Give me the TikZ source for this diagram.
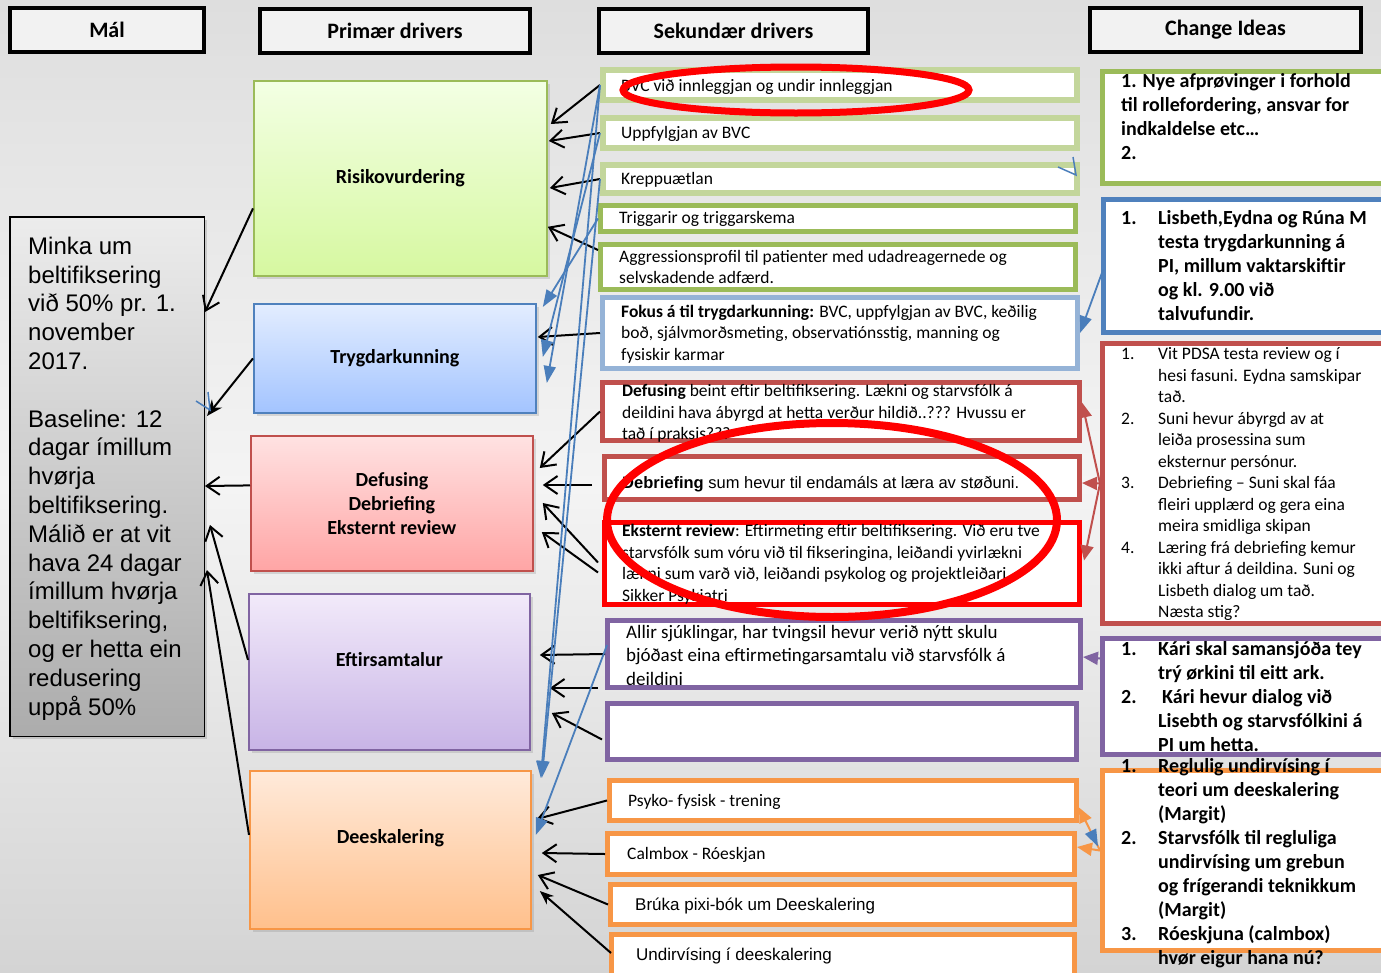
\documentclass[tikz,border=0pt]{standalone}
\usepackage{fontspec}
\setmainfont{Carlito}
\newfontfamily\arialfont{Liberation Sans}
\usepackage{xcolor}
\definecolor{headfill}{RGB}{242,242,242}
\definecolor{bgtop}{RGB}{222,222,222}
\definecolor{bgmid}{RGB}{244,244,244}
\definecolor{bgbot}{RGB}{212,212,212}
\definecolor{goaltop}{RGB}{236,236,236}
\definecolor{goalbot}{RGB}{172,172,172}
\definecolor{risktop}{RGB}{243,255,228}
\definecolor{riskbot}{RGB}{214,248,160}
\definecolor{riskline}{RGB}{155,187,89}
\definecolor{trygtop}{RGB}{227,237,255}
\definecolor{trygbot}{RGB}{163,196,255}
\definecolor{trygline}{RGB}{79,129,189}
\definecolor{defutop}{RGB}{255,226,226}
\definecolor{defubot}{RGB}{255,165,165}
\definecolor{defuline}{RGB}{192,80,77}
\definecolor{eftitop}{RGB}{242,234,250}
\definecolor{eftibot}{RGB}{200,180,230}
\definecolor{eftiline}{RGB}{128,100,162}
\definecolor{deestop}{RGB}{255,234,218}
\definecolor{deesbot}{RGB}{255,192,140}
\definecolor{deesline}{RGB}{247,150,70}
\definecolor{lightgreen}{RGB}{195,214,155}
\definecolor{lightblue}{RGB}{149,179,215}
\definecolor{ringred}{RGB}{255,0,0}
\definecolor{arrowblue}{RGB}{74,126,187}
\usepackage{tikz}
\usetikzlibrary{arrows.meta,positioning,calc,shadows}

\begin{document}
\begin{tikzpicture}[x=1pt, y=-1pt,
    header/.style={rectangle, draw=black, line width=4pt, fill=headfill, anchor=north west, font=\fontsize{22}{26}\selectfont\bfseries},
    goalbox/.style={rectangle, draw=black, line width=1.5pt, top color=goaltop, bottom color=goalbot, anchor=north west, drop shadow={shadow xshift=3pt, shadow yshift=-3pt, opacity=0.3}},
    prim/.style={rectangle, line width=1.8pt, anchor=north west, align=center, font=\fontsize{20}{24}\selectfont\bfseries, drop shadow={shadow xshift=3pt, shadow yshift=-3pt, opacity=0.25}},
    sec/.style={rectangle, draw=#1, line width=5pt, fill=white, anchor=north west},
    chg/.style={rectangle, draw=#1, line width=5pt, fill=white, anchor=north west, minimum width=290pt},
    stext/.style={anchor=west, align=left, inner sep=0pt, font=\fontsize{17.5}{21.5}\selectfont},
    ctext/.style={anchor=west, align=left, inner sep=0pt, font=\fontsize{20}{24}\selectfont\bfseries},
    arrow/.style={-{Straight Barb[length=13pt,width=18pt]}, line width=2pt},
    bluearrow/.style={-{Triangle[length=17pt,width=12pt]}, line width=1.8pt, arrowblue},
    idea/.style={-{Triangle[length=15pt,width=13pt]}, line width=2pt, color=#1},
    ring/.style={draw=ringred, line width=7pt}
]
% Background
\useasboundingbox (0,0) rectangle (1381,972);
\clip (0,0) rectangle (1381,972);
\shade[top color=bgtop, bottom color=bgbot, middle color=bgmid] (0,0) rectangle (1381,972);

% Headers
\node[header, minimum width=194pt, minimum height=44pt] (hmal) at (8,6) {Mál};
\node[header, minimum width=270pt, minimum height=44pt] (hprim) at (258,7) {Primær drivers};
\node[header, minimum width=269pt, minimum height=44pt] (hsek) at (597,7) {Sekundær drivers};
\node[header, minimum width=271pt, minimum height=44pt] (hchg) at (1088,6) {Change Ideas};

% Goal
\node[goalbox, minimum width=194.5pt, minimum height=519.5pt] (goal) at (9,216) {};
\node[anchor=west, align=left, inner sep=0pt, font=\arialfont\fontsize{24}{28.8}\selectfont] (goalt) at ($(goal.west)+(19,2)$) {Minka um\\beltifiksering\\við 50\% pr. 1.\\november\\2017.\\[28.8pt]Baseline: 12\\dagar ímillum\\hvørja\\beltifiksering.\\Málið er at vit\\hava 24 dagar\\ímillum hvørja\\beltifiksering,\\og er hetta ein\\redusering\\uppå 50\%};

% Primary drivers
\node[prim, draw=riskline, top color=risktop, bottom color=riskbot, minimum width=293pt, minimum height=195pt] (risk) at (253,80) {Risikovurdering};
\node[prim, draw=trygline, top color=trygtop, bottom color=trygbot, minimum width=282pt, minimum height=109pt] (tryg) at (253,303) {Trygdarkunning};
\node[prim, draw=defuline, top color=defutop, bottom color=defubot, minimum width=282pt, minimum height=135pt] (defu) at (250,435) {Defusing\\Debriefing\\Eksternt review};
\node[prim, draw=eftiline, top color=eftitop, bottom color=eftibot, minimum width=281pt, minimum height=156pt, text depth=24pt] (efti) at (248,593) {Eftirsamtalur};
\node[prim, draw=deesline, top color=deestop, bottom color=deesbot, minimum width=281pt, minimum height=158pt, text depth=26pt] (dees) at (249,770) {Deeskalering};

% Secondary drivers
\node[sec=lightgreen, line width=6pt, minimum width=474pt, minimum height=30pt] (s1) at (600,67) {};
\node[sec=lightgreen, line width=6pt, minimum width=474pt, minimum height=30pt] (s2) at (600,115) {};
\node[sec=lightgreen, line width=6pt, minimum width=474pt, minimum height=28pt] (s3) at (600,162) {};
\node[sec=riskline, minimum width=475pt, minimum height=26pt] (s4) at (598,203) {};
\node[sec=riskline, minimum width=475pt, minimum height=45pt] (s5) at (598,242) {};
\node[sec=lightblue, minimum width=475pt, minimum height=71pt] (s6) at (600,295) {};
\node[sec=defuline, minimum width=477pt, minimum height=58pt] (s7) at (600,380) {};
\node[sec=defuline, minimum width=475pt, minimum height=43pt] (s8) at (602,454) {};
\node[sec=ringred, minimum width=475pt, minimum height=82pt] (s9) at (602,520) {};
\node[sec=eftiline, minimum width=473pt, minimum height=67pt] (s10) at (605,618) {};
\node[sec=eftiline, minimum width=469pt, minimum height=56pt] (s11) at (605,701) {};
\node[sec=deesline, minimum width=467pt, minimum height=40pt] (s12) at (607,778) {};
\node[sec=deesline, minimum width=467pt, minimum height=41pt] (s13) at (605,831) {};
\node[sec=deesline, minimum width=464pt, minimum height=40pt] (s14) at (608,882) {};
\node[sec=deesline, minimum width=463pt, minimum height=60pt] (s15) at (609,932) {};

\node[stext] (s1t) at ($(s1.west)+(21,2)$) {BVC við innleggjan og undir innleggjan};
\node[stext] (s2t) at ($(s2.west)+(21,1)$) {Uppfylgjan av BVC};
\node[stext] (s3t) at ($(s3.west)+(21,1)$) {Kreppuætlan};
\node[stext] (s4t) at ($(s4.west)+(21,0)$) {Triggarir og triggarskema};
\node[stext] (s5t) at ($(s5.west)+(21,0)$) {Aggressionsprofil til patienter med udadreagernede og\\selvskadende adfærd.};
\node[stext] (s6t) at ($(s6.west)+(21,1)$) {\textbf{Fokus á til trygdarkunning:} BVC, uppfylgjan av BVC, keðilig\\boð, sjálvmorðsmeting, observatiónsstig, manning og\\fysiskir karmar};
\node[stext] (s7t) at ($(s7.west)+(22,2)$) {\textbf{Defusing} beint eftir beltifiksering. Lækni og starvsfólk á\\deildini hava ábyrgd at hetta verður hildið..??? Hvussu er\\tað í praksis???};
\node[stext, font=\arialfont\fontsize{16.5}{21}\selectfont] (s8t) at ($(s8.west)+(20,6)$) {\textbf{Debriefing} sum hevur til endamáls at læra av støðuni.};
\node[stext] (s9t) at ($(s9.west)+(20,1)$) {\textbf{Eksternt review}: Eftirmeting eftir beltifiksering. Við eru tve\\starvsfólk sum vóru við til fikseringina, leiðandi yvirlækni\\lækni sum varð við, leiðandi psykolog og projektleiðari\\Sikker Psykiatri};
\node[stext, font=\fontsize{19}{23.5}\selectfont] (s10t) at ($(s10.west)+(21,1)$) {Allir sjúklingar, har tvingsil hevur verið nýtt skulu\\bjóðast eina eftirmetingarsamtalu við starvsfólk á\\deildini};
\node[stext] (s12t) at ($(s12.west)+(21,1)$) {Psyko- fysisk - trening};
\node[stext] (s13t) at ($(s13.west)+(22,1)$) {Calmbox - Róeskjan};
\node[stext, font=\arialfont\fontsize{17}{21}\selectfont] (s14t) at ($(s14.west)+(27,1)$) {Brúka pixi-bók um Deeskalering};
\node[stext, font=\arialfont\fontsize{17}{21}\selectfont] (s15t) at ($(s15.north west)+(27,24)$) {Undirvísing í deeskalering};

% Change ideas
\node[chg=riskline, minimum height=112pt] (c1) at (1100,69) {};
\node[chg=trygline, minimum height=133pt] (c2) at (1101,197) {};
\node[chg=defuline, minimum height=280pt] (c3) at (1100,341) {};
\node[chg=eftiline, minimum height=116pt] (c4) at (1100,636) {};
\node[chg=deesline, minimum height=180pt] (c5) at (1100,768) {};

\node[ctext] (c1t) at ($(c1.west)+(21,-11)$) {1. Nye afprøvinger i forhold\\til rollefordering, ansvar for\\indkaldelse etc…\\2.};
\node[ctext] (c2t) at ($(c2.west)+(20,2)$) {\begin{tabular}{@{}p{37pt}@{}l@{}}
1. & Lisbeth,Eydna og Rúna M\\
 & testa trygdarkunning á\\
 & PI, millum vaktarskiftir\\
 & og kl. 9.00 við\\
 & talvufundir.
\end{tabular}};
\node[ctext, font=\fontsize{17.5}{21.5}\selectfont] (c3t) at ($(c3.west)+(21,1)$) {\begin{tabular}{@{}p{37pt}@{}l@{}}
1. & Vit PDSA testa review og í\\
 & hesi fasuni. Eydna samskipar\\
 & tað.\\
2. & Suni hevur ábyrgd av at\\
 & leiða prosessina sum\\
 & eksternur persónur.\\
3. & Debriefing – Suni skal fáa\\
 & fleiri upplærd og gera eina\\
 & meira smidliga skipan\\
4. & Læring frá debriefing kemur\\
 & ikki aftur á deildina. Suni og\\
 & Lisbeth dialog um tað.\\
 & Næsta stig?
\end{tabular}};
\node[ctext] (c4t) at ($(c4.west)+(21,2)$) {\begin{tabular}{@{}p{37pt}@{}l@{}}
1. & Kári skal samansjóða tey\\
 & trý ørkini til eitt ark.\\
2. & \hspace{4pt}Kári hevur dialog við\\
 & Lisebth og starvsfólkini á\\
 & PI um hetta.
\end{tabular}};
\node[ctext] (c5t) at ($(c5.west)+(21,3)$) {\begin{tabular}{@{}p{37pt}@{}l@{}}
1. & Reglulig undirvísing í\\
 & teori um deeskalering\\
 & (Margit)\\
2. & Starvsfólk til regluliga\\
 & undirvísing um grebun\\
 & og frígerandi teknikkum\\
 & (Margit)\\
3. & Róeskjuna (calmbox)\\
 & hvør eigur hana nú?
\end{tabular}};

% Arrows to the goal
\draw[arrow] ($(risk.west)+(0,30)$) -- ($(goal.north east)+(0,96)$);
\draw[-{Stealth[length=16pt,width=13pt]}, line width=2pt] (tryg.west) -- ($(goal.north east)+(2,200)$);
\draw[arrow] ($(defu.west)+(0,-18)$) -- ($(goal.east)+(0,9.5)$);
\draw[arrow] ($(efti.west)+(0,-12)$) -- ($(goal.north east)+(5,309)$);
\draw[arrow] ($(dees.west)+(0,-15)$) -- ($(goal.north east)+(2,354)$);

% Arrows from secondary to primary drivers
\draw[arrow] (s1.west) -- ($(risk.north east)+(3,44)$);
\draw[arrow] (s2.west) -- ($(risk.north east)+(1,61)$);
\draw[arrow] (s3.west) -- ($(risk.north east)+(2,108)$);
\draw[arrow] ($(s5.north west)+(0,8)$) -- ($(risk.south east)+(0,-50)$);
\draw[arrow] (s6.west) -- ($(tryg.north east)+(1,34)$);
\draw[arrow] (s7.west) -- ($(defu.north east)+(6,33)$);
\draw[arrow] ($(s8.west)+(-10,7)$) -- ($(defu.north east)+(9,50)$);
\draw[arrow] ($(s9.west)+(-4,-1)$) -- ($(defu.north east)+(9,68)$);
\draw[arrow] ($(s9.west)+(-4,9)$) -- ($(defu.north east)+(8,97)$);
\draw[arrow] (s10.west) -- ($(efti.north east)+(9,62)$);
\draw[arrow] ($(s10.south west)+(-7,-2)$) -- ($(efti.north east)+(19,95)$);
\draw[arrow] ($(s11.west)+(-3,8)$) -- ($(efti.north east)+(21,120)$);
\draw[arrow] (s12.west) -- ($(dees.north east)+(5,49)$);
\draw[arrow] (s13.west) -- ($(dees.north east)+(10,83)$);
\draw[arrow] (s14.west) -- ($(dees.north east)+(6,105)$);
\draw[-{Stealth[length=14pt,width=11pt]}, line width=2pt] ($(s15.north west)+(2,21)$) -- ($(dees.north east)+(8,121)$);

% Blue arrows
\draw[bluearrow] (s1.west) -- ($(tryg.north east)+(10,80)$);
\draw[bluearrow] (s1.west) -- ($(dees.north east)+(9,8)$);
\draw[bluearrow] (s2.west) -- ($(tryg.north east)+(6,54)$);
\draw[bluearrow] (s3.west) -- ($(dees.north east)+(10,8)$);
\draw[bluearrow] (s4.west) -- ($(tryg.north east)+(6,4)$);
\draw[bluearrow] ($(s10.west)+(2,-9)$) -- ($(dees.north east)+(4,65)$);
\draw[bluearrow] ($(c2.west)+(2,4)$) -- (s6.east);
\draw[arrowblue, line width=1.5pt] ($(goal.north east)+(-9,185)$) -- ($(goal.north east)+(5,194)$) -- ($(goal.north east)+(3,176)$);
\draw[arrowblue, line width=1.5pt] ($(s3.east)+(-22,-12)$) -- ($(s3.east)+(-4,-4)$) -- ($(s3.east)+(-7,-22)$);

% Arrows from change ideas
\draw[idea=defuline] (c3.west) -- ($(s7.east)+(0,-9)$);
\draw[idea=defuline] (c3.west) -- ($(s8.east)+(0,5)$);
\draw[idea=defuline] (c3.west) -- ($(s9.east)+(2,-3)$);
\draw[idea=eftiline] ($(c4.west)+(0,-38)$) -- ($(s10.east)+(0,3)$);
\draw[idea=deesline] ($(c5.west)+(0,-10)$) -- ($(s12.east)+(0,7)$);
\draw[idea=deesline] ($(c5.west)+(0,-10)$) -- ($(s13.east)+(0,-7)$);
\draw[bluearrow, shorten <=28pt] ($(s12.east)+(0,7)$) -- ($(c5.west)+(-2,-14)$);

% Red rings
\draw[ring] (796,90) ellipse [x radius=173, y radius=23];
\draw[ring, line width=8pt] (832,520) ellipse [x radius=225, y radius=97];
\end{tikzpicture}
\end{document}
